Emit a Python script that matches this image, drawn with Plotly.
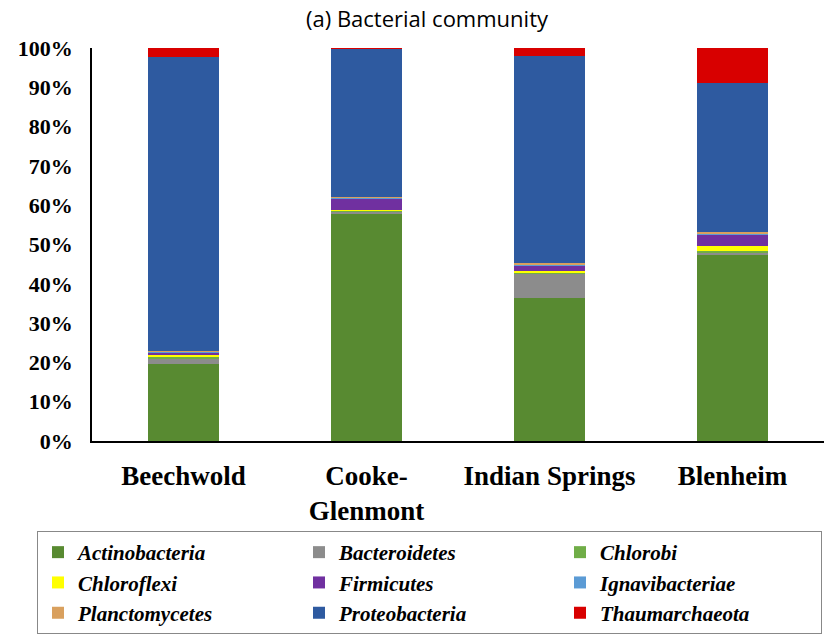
import plotly.graph_objects as go

sites = ["Beechwold", "Cooke-<br>Glenmont", "Indian Springs", "Blenheim"]

actinobacteria = [19.5, 58.0, 36.5, 47.5]
bacteroidetes = [1.6, 0.3, 6.0, 0.5]
chlorobi = [0.3, 0.3, 0.2, 0.3]
chloroflexi = [0.6, 0.2, 0.6, 1.2]
firmicutes = [0.6, 2.8, 1.4, 3.0]
ignavibacteriae = [0.2, 0.3, 0.2, 0.3]
planctomycetes = [0.2, 0.3, 0.3, 0.5]
proteobacteria = [74.6, 37.6, 52.7, 37.7]
thaumarchaeota = [2.4, 0.2, 2.1, 9.0]

series = [
    ("Actinobacteria", actinobacteria, "#588a31"),
    ("Bacteroidetes", bacteroidetes, "#8c8c8c"),
    ("Chlorobi", chlorobi, "#70ad47"),
    ("Chloroflexi", chloroflexi, "#ffff00"),
    ("Firmicutes", firmicutes, "#7030a0"),
    ("Ignavibacteriae", ignavibacteriae, "#5b9bd5"),
    ("Planctomycetes", planctomycetes, "#d9a05e"),
    ("Proteobacteria", proteobacteria, "#2e5aa0"),
    ("Thaumarchaeota", thaumarchaeota, "#d80000"),
]

fig = go.Figure()
for name, vals, color in series:
    fig.add_trace(go.Bar(
        x=sites, y=[v / 100 for v in vals], name=name,
        marker=dict(color=color, line=dict(width=0)),
        width=0.39,
    ))

W, H = 828, 634
L, T = 92, 48
pw, ph = 732, 393
R = W - L - pw
B = H - T - ph

fig.update_layout(
    barmode="stack",
    width=W, height=H,
    margin=dict(l=L, r=R, t=T, b=B, autoexpand=False),
    paper_bgcolor="white", plot_bgcolor="white",
    title=dict(text="(a) Bacterial community", x=427/W, xanchor="center",
               y=1 - 19/H, yanchor="middle", xref="container", yref="container",
               pad=dict(t=0, b=0, l=0, r=0),
               font=dict(family="Open Sans", size=22, color="black")),
    xaxis=dict(showline=True, linecolor="black", linewidth=1.5, ticks="",
               tickfont=dict(family="Liberation Serif", size=27, color="black", weight="bold"),
               ticklabelstandoff=10),
    yaxis=dict(range=[0, 1], tickformat=".0%", dtick=0.1, showgrid=False,
               showline=True, linecolor="black", linewidth=1.5, ticks="", zeroline=False,
               tickfont=dict(family="Liberation Serif", size=22, color="black", weight="bold"),
               ticklabelstandoff=13),
    legend=dict(orientation="h", xref="paper", yref="paper",
                x=(37 - L) / pw, xanchor="left", y=-(531 - (T + ph)) / ph, yanchor="top",
                entrywidth=216, traceorder="normal",
                bordercolor="#888888", borderwidth=1, bgcolor="white",
                font=dict(family="Liberation Serif", size=21, color="black",
                          style="italic", weight="bold"),
                tracegroupgap=0, itemwidth=30),
    showlegend=True,
)

fig.write_html("out.html", config={"displayModeBar": False},
               post_script="document.body.style.margin='0px';")
